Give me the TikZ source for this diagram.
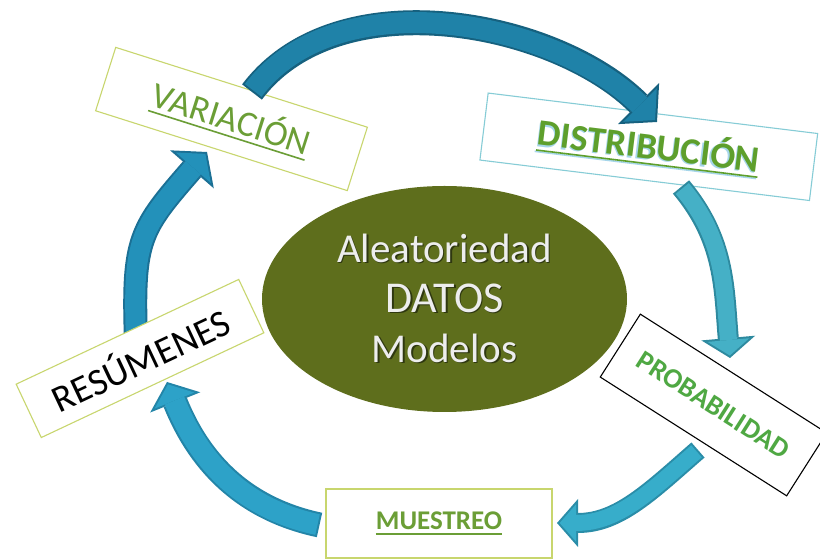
\documentclass[tikz,border=0pt]{standalone}
\usepackage{fontspec}
\setmainfont{Carlito}
\usetikzlibrary{shapes.geometric,arrows.meta}
\definecolor{boxyg}{HTML}{C8D66E}
\definecolor{boxteal}{HTML}{86CCD6}
\definecolor{txtgreen}{HTML}{6B9E36}
\definecolor{txtgreenb}{HTML}{5E9F2C}
\definecolor{probgreen}{HTML}{4FA843}
\definecolor{olivefill}{HTML}{5E6E1C}
\definecolor{elltext}{HTML}{EDEDED}
\definecolor{ellshadow}{HTML}{2F3810}
\definecolor{shblue}{HTML}{A6D6EA}
\definecolor{aTopO}{HTML}{16617F}\definecolor{aTopI}{HTML}{1F82A8}
\definecolor{aRO}{HTML}{2E8A9F}\definecolor{aRI}{HTML}{45B0C6}
\definecolor{aBRO}{HTML}{2A8DA8}\definecolor{aBRI}{HTML}{37ADCA}
\definecolor{aBLO}{HTML}{2385A8}\definecolor{aBLI}{HTML}{2DA2C8}
\definecolor{aLO}{HTML}{1B7095}\definecolor{aLI}{HTML}{2391BA}
\newcommand\ulx[2]{\vtop{\hbox{#2}\kern#1\hrule height 1.6pt}}
\newcommand\shadowed[4]{\makebox[0pt][l]{\kern#2\raisebox{-#3}{\color{#1}#4}}#4}
\begin{document}
\begin{tikzpicture}[x=1pt,y=1pt,
  cbox/.style={draw, fill=white, line width=1.1pt, inner sep=0pt},
  arrbody/.style={line cap=butt},
]
\clip (0,0) rectangle (820,559);
\fill[white] (0,0) rectangle (820,559);

% central ellipse
\node[ellipse, fill=olivefill, minimum width=365pt, minimum height=226pt, inner sep=0pt,
  text=elltext, align=center, font=\fontsize{41}{50}\selectfont] (core) at (444.5,260)
  {\shadowed{ellshadow}{1.5pt}{1.5pt}{Aleatoriedad}\\
   {\fontsize{44}{50}\selectfont\shadowed{ellshadow}{1.5pt}{1.5pt}{DATOS}}\\
   \shadowed{ellshadow}{1.5pt}{1.5pt}{Modelos}};

% arrow coordinates
\coordinate (uA) at (136,218); \coordinate (uB) at (207,407);
\coordinate (tA) at (252,467); \coordinate (tB) at (657,437);
\coordinate (rA) at (681,372); \coordinate (rB) at (730,201);
\coordinate (bA) at (698,109); \coordinate (bB) at (557,36);
\coordinate (lA) at (319.5,34); \coordinate (lB) at (167,177);

% left arrow (behind RESUMENES)
\draw[arrbody, aLO, line width=24pt, -{Triangle[length=23pt,width=58pt,line width=0pt]}]
  (uA) to[out=92,in=229,looseness=1.3] (uB);
\draw[arrbody, aLI, line width=20pt, shorten <=2pt, shorten >=2.5pt, -{Triangle[length=18.4pt,width=46.5pt,line width=0pt]}]
  (uA) to[out=92,in=229,looseness=1.3] (uB);

% boxes
\node[cbox, draw=boxyg, minimum width=264pt, minimum height=66.5pt, rotate=-17.6,
  text=txtgreen, font=\fontsize{36}{43}\selectfont] (var) at (231.5,440) {\ulx{4pt}{VARIACIÓN}};
\node[cbox, draw=boxteal, minimum width=332pt, minimum height=67.5pt, rotate=-7,
  text=txtgreenb, font=\bfseries\fontsize{37}{44}\selectfont] (dist) at (648.8,412.2)
  {\shadowed{shblue}{-1.2pt}{1.5pt}{\ulx{4pt}{DISTRIBUCIÓN}}};
\node[cbox, draw=black, minimum width=221pt, minimum height=74.6pt, rotate=-32.5,
  text=probgreen, font=\bfseries\fontsize{28}{34}\selectfont] (prob) at (713.5,154) {PROBABILIDAD};
\node[cbox, draw=boxyg, minimum width=226pt, minimum height=69pt,
  text=txtgreen, font=\bfseries\fontsize{27}{32}\selectfont] (mue) at (439,35.5) {\ulx{3.5pt}{MUESTREO}};
\node[cbox, draw=boxyg, minimum width=246pt, minimum height=59pt, rotate=25.2,
  text=black, font=\fontsize{38}{45}\selectfont] (res) at (140,200.5) {RESÚMENES};

% top arrow
\draw[arrbody, aTopO, line width=25pt, -{Triangle[length=26pt,width=58pt,line width=0pt]}]
  (tA) to[out=53,in=135,looseness=0.9] (tB);
\draw[arrbody, aTopI, line width=21pt, shorten <=2pt, shorten >=2.7pt, -{Triangle[length=21.3pt,width=47.5pt,line width=0pt]}]
  (tA) to[out=53,in=135,looseness=0.9] (tB);
% right arrow
\draw[arrbody, aRO, line width=21pt, -{Triangle[length=20pt,width=54pt,line width=0pt]}]
  (rA) to[out=-50,in=95] (rB);
\draw[arrbody, aRI, line width=17pt, shorten <=2pt, shorten >=2.5pt, -{Triangle[length=15.5pt,width=41.9pt,line width=0pt]}]
  (rA) to[out=-50,in=95] (rB);
% bottom-right arrow
\draw[arrbody, aBRO, line width=20pt, -{Triangle[length=21pt,width=48pt,line width=0pt]}]
  (bA) to[out=221,in=0] (bB);
\draw[arrbody, aBRI, line width=16pt, shorten <=2pt, shorten >=2.7pt, -{Triangle[length=16.3pt,width=37.3pt,line width=0pt]}]
  (bA) to[out=221,in=0] (bB);
% bottom-left arrow
\draw[arrbody, aBLO, line width=25pt, -{Triangle[length=22pt,width=54pt,line width=0pt]}]
  (lA) to[out=168,in=-68] (lB);
\draw[arrbody, aBLI, line width=21pt, shorten <=2pt, shorten >=2.6pt, -{Triangle[length=17.4pt,width=42.7pt,line width=0pt]}]
  (lA) to[out=168,in=-68] (lB);
\end{tikzpicture}
\end{document}
